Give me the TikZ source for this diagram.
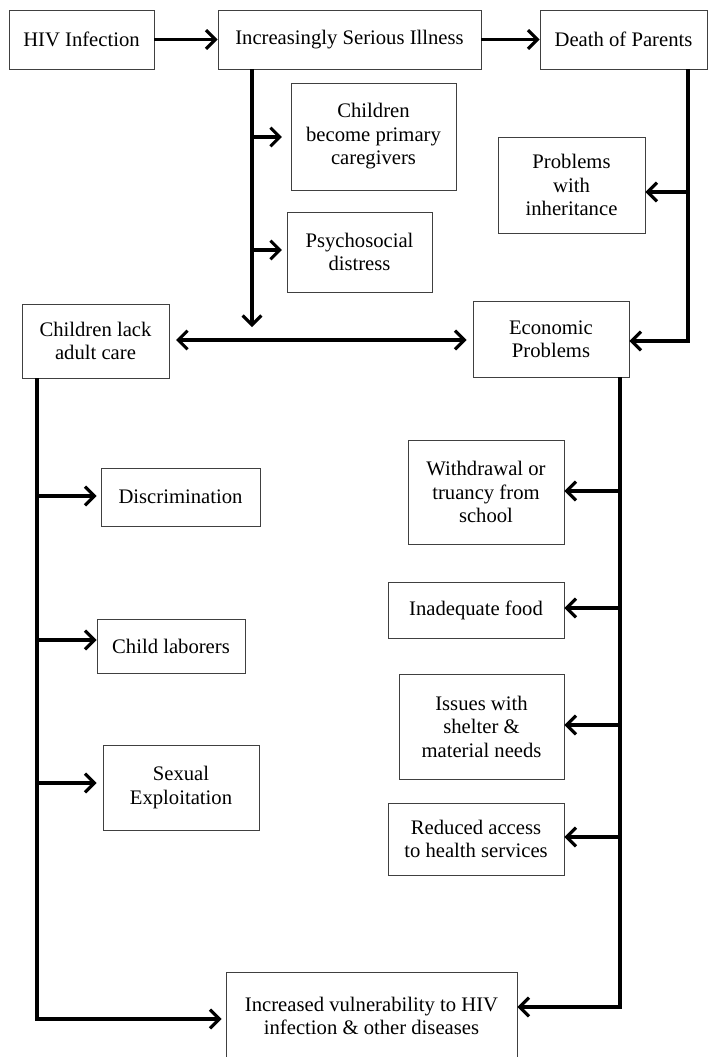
\documentclass[tikz,border=0pt]{standalone}
\usepackage{fontspec}
\setmainfont{Liberation Serif}
\usetikzlibrary{arrows.meta}
\begin{document}
\begin{tikzpicture}[x=0.75pt,y=-0.75pt,
  box/.style={draw=black!75, line width=0.7pt, align=center, inner sep=0pt,
    font=\fontsize{15.5}{17.6}\selectfont},
  sz/.style 2 args={minimum width=#1*0.75pt, minimum height=#2*0.75pt},
  conn/.style={line width=2.3pt, line join=miter,
    -{Straight Barb[length=7pt,width=14pt]}},
  both/.style={line width=2.3pt,
    {Straight Barb[length=7pt,width=14pt]}-{Straight Barb[length=7pt,width=14pt]}}]
\useasboundingbox (0,0) rectangle (708,1057);

% top row
\node[box, sz={145}{59}] (hiv) at (81.5,39.5) {HIV Infection};
\node[box, sz={263}{59}] (ill) at (349.5,39.5) {Increasingly Serious Illness};
\node[box, sz={167}{59}] (death) at (623.5,39.5) {Death of Parents};

% middle
\node[box, sz={165}{107}] (care) at (373.5,136.5) {Children\\become primary\\caregivers};
\node[box, sz={147}{96}] (inh) at (571.5,185) {Problems\\with\\inheritance};
\node[box, sz={145}{80}] (psy) at (359.5,252) {Psychosocial\\distress};
\node[box, sz={147}{74}] (lack) at (95.5,341) {Children lack\\adult care};
\node[box, sz={156}{76}] (econ) at (551,339) {Economic\\Problems};

% left column
\node[box, sz={159}{58}] (disc) at (180.5,497) {Discrimination};
\node[box, sz={148}{54}] (labor) at (171,646) {Child laborers};
\node[box, sz={156}{85}] (sex) at (181,787.5) {Sexual\\Exploitation};

% right column
\node[box, sz={156}{104}] (with) at (486,492) {Withdrawal or\\truancy from\\school};
\node[box, sz={176}{56}] (food) at (476,610) {Inadequate food};
\node[box, sz={165}{105}] (shel) at (481.5,726.5) {Issues with\\shelter \&\\material needs};
\node[box, sz={176}{72}] (health) at (476,839) {Reduced access\\to health services};

% bottom
\node[box, sz={291}{88}] (vul) at (371.5,1016) {Increased vulnerability to HIV\\infection \& other diseases};

% coordinates
\coordinate (tA) at (252,327);
\coordinate (b1) at (252,137);
\coordinate (b2) at (252,250);
\coordinate (dT) at (688,341);
\coordinate (b3) at (688,192);
\coordinate (lT) at (37,1019);
\coordinate (l1) at (37,496);
\coordinate (l2) at (37,640);
\coordinate (l3) at (37,783);
\coordinate (rT) at (620,1007);
\coordinate (r1) at (620,491);
\coordinate (r2) at (620,608);
\coordinate (r3) at (620,725);
\coordinate (r4) at (620,837);

% connectors
\draw[conn] (hiv) -- (ill);
\draw[conn] (ill) -- (death);

\draw[conn] (ill.south -| tA) -- (tA);
\draw[conn, shorten >=6.5pt] (b1) -- (b1 -| care.west);
\draw[conn, shorten >=3.5pt] (b2) -- (b2 -| psy.west);

\draw[both, shorten <=5pt, shorten >=4.5pt] (lack.east |- 0,340) -- (econ.west |- 0,340);

\draw[conn] (death.south -| dT) -- (dT) -- (dT -| econ.east);
\draw[conn] (b3) -- (b3 -| inh.east);

\draw[conn, shorten >=3pt] (lack.south -| lT) -- (lT) -- (lT -| vul.west);
\draw[conn, shorten >=3pt] (l1) -- (l1 -| disc.west);
\draw[conn] (l2) -- (l2 -| labor.west);
\draw[conn, shorten >=4.5pt] (l3) -- (l3 -| sex.west);

\draw[conn] (econ.south -| rT) -- (rT) -- (rT -| vul.east);
\draw[conn] (r1) -- (r1 -| with.east);
\draw[conn] (r2) -- (r2 -| food.east);
\draw[conn] (r3) -- (r3 -| shel.east);
\draw[conn] (r4) -- (r4 -| health.east);
\end{tikzpicture}
\end{document}
